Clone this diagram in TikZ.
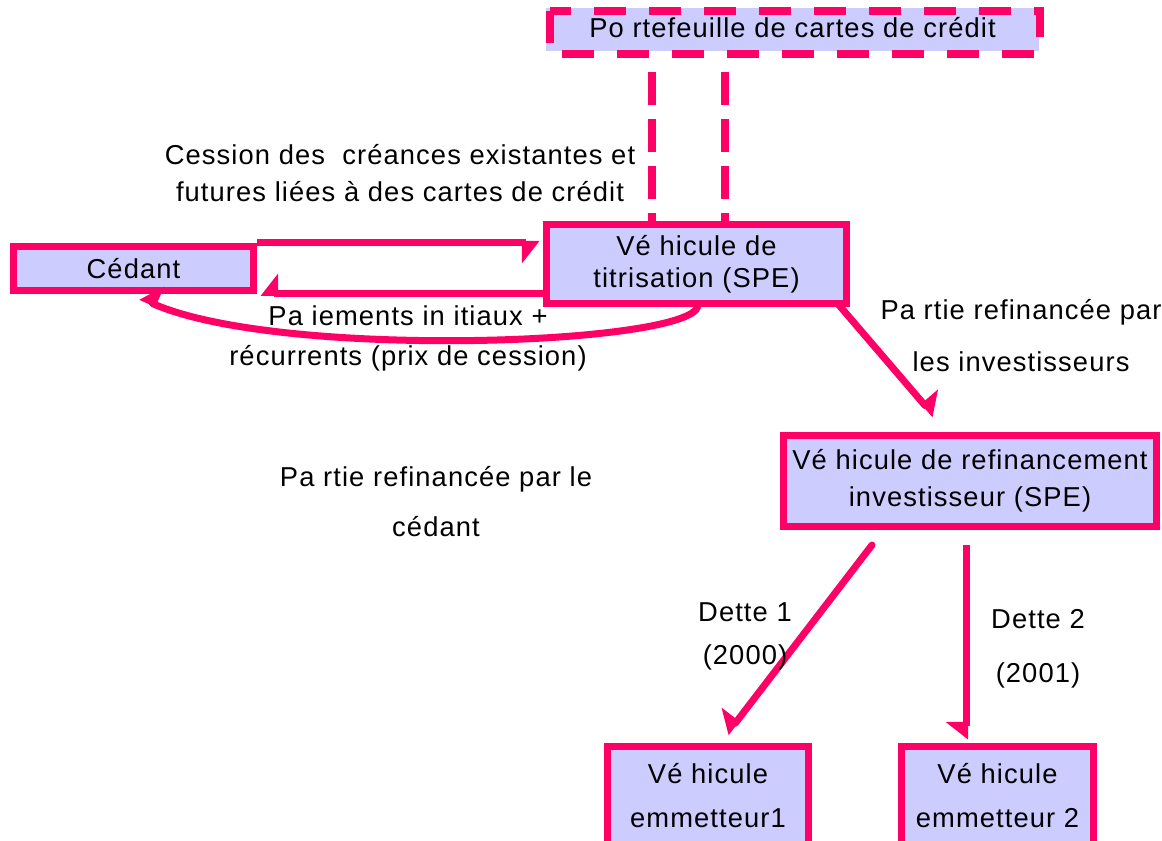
\documentclass[tikz,border=0pt]{standalone}
\usepackage{fontspec}
\setmainfont{Liberation Sans}[LetterSpace=4.0]
\usetikzlibrary{arrows.meta}
\definecolor{mag}{HTML}{FF0066}
\definecolor{lav}{HTML}{CCCCFF}
\tikzset{
  box/.style={draw=mag, fill=lav, line width=5.25pt, inner sep=0pt, align=center, font=\fontsize{20.5}{#1}\selectfont},
  lbl/.style={inner sep=0pt, align=center, font=\fontsize{20.5}{#1}\selectfont},
  arr/.style={draw=mag, line width=5.25pt, line cap=round, -{Triangle[right, length=12pt, width=30pt]}},
  arrs/.style={draw=mag, line width=5.25pt, line cap=round, -{Triangle[left, length=12pt, width=30pt]}},
  dashv/.style={draw=mag, line width=6pt, dash pattern=on 24.75pt off 10.5pt},
}
\begin{document}
\begin{tikzpicture}[x=0.75pt,y=-0.75pt]
\useasboundingbox (0,0) rectangle (1162,841);
% portfolio
\node[fill=lav, inner sep=0pt, minimum width=369.75pt, minimum height=32.25pt] (porte) at (792.5,29.5) {};
\draw[draw=mag, line width=6pt, dash pattern=on 24pt off 17.25pt] (550,11.5) -- (550,54.5) -- (1040,54.5) -- (1040,11.5) -- cycle;
\node[lbl=24pt] (portet) at (792.5,28) {Po rtefeuille de cartes de crédit};
% boxes
\node[box=24pt, minimum width=225pt, minimum height=59.25pt] (spe) at (696.5,264) {Vé hicule de\\titrisation (SPE)};
\node[box=24pt, minimum width=180pt, minimum height=33pt] (ced) at (133.5,268.5) {Cédant};
\node[box=27.75pt, minimum width=279.75pt, minimum height=68.25pt] (refi) at (970,481) {Vé hicule de refinancement\\investisseur (SPE)};
\node[box=33pt, minimum width=150.75pt, minimum height=73.875pt] (em1) at (708,795.75) {Vé hicule\\emmetteur1};
\node[box=33pt, minimum width=144pt, minimum height=73.875pt] (em2) at (997.5,795.75) {Vé hicule\\emmetteur 2};
% dashed links
\coordinate (d1) at (652,72);
\coordinate (d2) at (724.5,72);
\draw[dashv] (d1) -- (d1 |- spe.north);
\draw[dashv] (d2) -- (d2 |- spe.north);
% arrows
\draw[arr, line cap=butt, shorten >=2.6pt] (ced.north east) -- (spe.west |- ced.north);
\draw[arr, line cap=butt, shorten >=2.6pt] (spe.west |- ced.south) -- (ced.south east);
\coordinate (cs) at (698,306);
\coordinate (ce) at (140,298);
\draw[arr] (cs) .. controls (690,345) and (280,360) .. (ce);
\coordinate (r1) at (838,304);
\coordinate (r2) at (934,416);
\draw[arrs] (r1) -- (r2);
\coordinate (a1) at (872,545);
\coordinate (b1) at (727,734);
\draw[arr] (a1) -- (b1);
\coordinate (a2) at (966,545);
\draw[arr, line cap=butt, shorten >=2.6pt] (a2) -- (a2 |- em2.north);
% labels
\node[lbl=27.75pt] (l1) at (400,173.5) {Cession des\ \ créances existantes et\\futures liées à des cartes de crédit};
\node[lbl=30pt] (l2) at (408,338) {Pa iements in itiaux +\\récurrents (prix de cession)};
\node[lbl=39pt] (l3) at (1021,336) {Pa rtie refinancée par\\les investisseurs};
\node[lbl=37.5pt] (l4) at (436,502) {Pa rtie refinancée par le\\cédant};
\node[lbl=32.25pt] (l5) at (745,636.5) {Dette 1\\(2000)};
\node[lbl=40.5pt] (l6) at (1038,649) {Dette 2\\(2001)};
\end{tikzpicture}
\end{document}
